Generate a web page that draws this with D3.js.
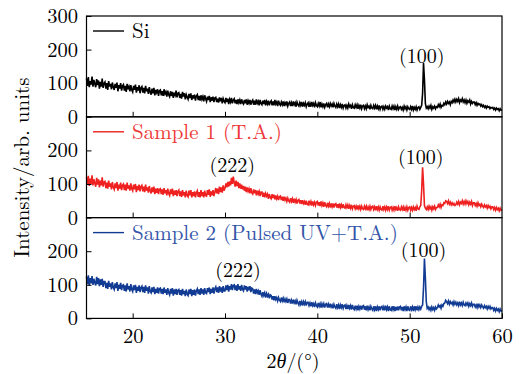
<!DOCTYPE html>
<html>
<head>
<meta charset="utf-8">
<script src="https://cdn.jsdelivr.net/npm/d3@7"></script>
<style>
  body { margin: 0; background: #fff; }
  .axis path { display: none; }
  .axis line { stroke: #000; stroke-width: 1; }
</style>
</head>
<body>
<svg id="chart" width="520" height="374"></svg>
<script>
const serif = "'Latin Modern Roman', 'Liberation Serif', serif";

// scan from 15 deg, one reading every 0.1 deg, up to 60 deg
const startAngle = 15;
const stepAngle = 0.1;

// one row per degree
const siCounts = [
  114, 92, 118, 88, 106, 96, 120, 90, 110, 98,
  88, 112, 94, 108, 84, 104, 90, 114, 86, 100,
  104, 84, 100, 80, 106, 90, 98, 82, 102, 88,
  80, 98, 86, 102, 76, 94, 84, 100, 78, 92,
  96, 78, 92, 74, 98, 82, 90, 76, 94, 80,
  74, 92, 80, 96, 72, 88, 78, 94, 70, 86,
  90, 72, 86, 70, 92, 76, 84, 68, 88, 74,
  66, 84, 70, 86, 64, 80, 72, 82, 62, 78,
  80, 64, 76, 62, 82, 68, 74, 60, 78, 66,
  60, 76, 62, 74, 56, 72, 64, 78, 58, 70,
  72, 56, 68, 54, 74, 60, 70, 52, 66, 58,
  52, 68, 56, 70, 50, 64, 54, 66, 48, 62,
  66, 50, 62, 48, 64, 52, 60, 46, 64, 54,
  46, 60, 50, 62, 44, 58, 48, 60, 44, 56,
  58, 44, 54, 42, 58, 46, 56, 40, 54, 46,
  42, 56, 44, 54, 38, 52, 44, 56, 40, 50,
  54, 40, 50, 38, 52, 42, 50, 38, 52, 42,
  38, 50, 40, 52, 36, 48, 40, 50, 36, 46,
  50, 36, 48, 36, 52, 40, 46, 34, 50, 40,
  36, 48, 38, 50, 34, 46, 38, 48, 34, 44,
  48, 34, 46, 34, 50, 38, 44, 32, 48, 38,
  34, 44, 36, 46, 32, 42, 36, 46, 32, 40,
  44, 32, 42, 32, 46, 36, 42, 30, 44, 36,
  32, 42, 34, 44, 30, 40, 34, 42, 30, 38,
  42, 30, 40, 30, 44, 34, 40, 28, 42, 34,
  30, 40, 32, 44, 28, 38, 30, 40, 28, 36,
  40, 28, 38, 30, 40, 32, 38, 28, 40, 32,
  28, 38, 30, 38, 26, 36, 28, 38, 26, 34,
  36, 26, 34, 26, 38, 30, 34, 24, 36, 28,
  26, 36, 28, 36, 24, 34, 26, 36, 24, 32,
  34, 24, 32, 24, 36, 28, 32, 22, 34, 26,
  24, 34, 26, 34, 22, 32, 24, 34, 22, 30,
  32, 22, 30, 22, 32, 26, 30, 20, 32, 24,
  22, 32, 24, 32, 20, 30, 22, 32, 22, 28,
  30, 22, 28, 20, 32, 24, 30, 20, 30, 24,
  22, 30, 22, 32, 20, 28, 22, 30, 20, 28,
  30, 22, 28, 34, 70, 160, 110, 40, 26, 30,
  24, 32, 26, 34, 22, 30, 26, 32, 24, 30,
  28, 36, 30, 38, 28, 34, 32, 40, 36, 44,
  38, 46, 40, 44, 36, 46, 42, 50, 44, 52,
  44, 52, 46, 54, 42, 50, 46, 54, 44, 50,
  42, 50, 40, 48, 44, 50, 38, 46, 40, 44,
  44, 36, 42, 34, 40, 36, 38, 32, 36, 30,
  34, 28, 32, 26, 32, 28, 30, 24, 28, 26,
  28, 22, 26, 20, 26, 22, 24, 18, 24, 20,
  20
];

const sample1Counts = [
  120, 98, 124, 94, 116, 100, 126, 96, 114, 102,
  92, 118, 98, 114, 90, 110, 96, 120, 92, 106,
  108, 88, 104, 86, 110, 92, 102, 84, 106, 90,
  84, 102, 88, 106, 80, 98, 86, 104, 82, 96,
  100, 82, 98, 80, 104, 86, 96, 80, 102, 86,
  80, 98, 84, 100, 76, 94, 82, 98, 78, 92,
  96, 78, 92, 76, 98, 80, 90, 74, 94, 80,
  72, 90, 76, 92, 70, 86, 74, 88, 70, 84,
  86, 70, 84, 68, 88, 72, 82, 66, 86, 72,
  66, 84, 70, 86, 64, 80, 68, 82, 64, 78,
  82, 64, 78, 62, 82, 66, 76, 60, 80, 66,
  62, 80, 66, 82, 60, 76, 64, 78, 60, 74,
  80, 62, 76, 60, 82, 64, 76, 60, 80, 66,
  64, 82, 68, 84, 62, 78, 66, 82, 64, 76,
  88, 72, 86, 70, 92, 76, 90, 74, 96, 80,
  88, 102, 90, 106, 92, 108, 96, 118, 100, 122,
  104, 92, 110, 94, 106, 88, 102, 86, 98, 84,
  94, 80, 92, 76, 90, 78, 86, 72, 88, 74,
  70, 84, 72, 82, 66, 80, 70, 78, 64, 76,
  76, 62, 74, 60, 72, 64, 70, 56, 70, 60,
  56, 70, 58, 68, 54, 66, 56, 64, 52, 62,
  64, 52, 62, 50, 62, 52, 58, 48, 58, 50,
  46, 58, 48, 56, 44, 56, 46, 54, 42, 52,
  54, 42, 52, 40, 52, 42, 48, 38, 50, 40,
  38, 50, 40, 48, 36, 48, 38, 46, 36, 46,
  48, 36, 46, 34, 48, 36, 44, 32, 46, 36,
  32, 44, 34, 42, 30, 42, 32, 42, 30, 40,
  42, 30, 40, 28, 42, 30, 38, 28, 40, 30,
  28, 38, 30, 38, 26, 36, 28, 38, 26, 34,
  36, 26, 34, 24, 36, 26, 34, 24, 34, 26,
  24, 34, 26, 34, 22, 32, 24, 34, 24, 32,
  34, 24, 32, 22, 34, 24, 32, 22, 32, 24,
  22, 34, 24, 32, 22, 32, 24, 34, 22, 30,
  32, 22, 30, 22, 34, 24, 30, 20, 32, 24,
  22, 32, 24, 32, 20, 30, 22, 32, 22, 30,
  32, 22, 30, 22, 32, 24, 30, 20, 34, 26,
  24, 32, 36, 80, 150, 100, 36, 28, 24, 32,
  24, 34, 26, 32, 22, 32, 26, 34, 24, 30,
  30, 38, 32, 40, 30, 38, 36, 44, 42, 50,
  48, 42, 50, 40, 46, 38, 44, 38, 42, 36,
  38, 46, 40, 48, 38, 46, 42, 50, 40, 48,
  40, 50, 42, 48, 38, 46, 40, 48, 36, 44,
  44, 36, 42, 34, 44, 36, 40, 32, 40, 34,
  30, 38, 32, 36, 28, 36, 30, 34, 26, 32,
  32, 24, 30, 22, 30, 24, 28, 20, 28, 22,
  24
];

const sample2Counts = [
  124, 102, 128, 98, 120, 104, 126, 100, 118, 106,
  98, 124, 102, 120, 96, 116, 100, 118, 94, 110,
  110, 90, 106, 88, 112, 94, 104, 86, 108, 92,
  86, 104, 90, 108, 82, 100, 88, 106, 84, 98,
  100, 82, 98, 80, 104, 86, 96, 80, 102, 86,
  80, 98, 84, 100, 76, 94, 82, 98, 78, 92,
  96, 78, 94, 76, 98, 82, 92, 74, 96, 80,
  76, 92, 78, 94, 72, 88, 76, 92, 74, 88,
  90, 74, 88, 72, 92, 76, 86, 70, 90, 76,
  70, 88, 74, 90, 68, 86, 72, 88, 70, 84,
  86, 70, 84, 68, 88, 72, 82, 66, 86, 72,
  68, 86, 72, 88, 66, 84, 70, 86, 68, 82,
  88, 72, 86, 70, 90, 74, 86, 70, 90, 76,
  74, 90, 78, 92, 72, 88, 76, 92, 74, 88,
  94, 78, 92, 76, 96, 80, 92, 76, 96, 82,
  82, 98, 84, 100, 80, 96, 86, 102, 84, 98,
  100, 84, 98, 82, 102, 86, 96, 82, 100, 86,
  82, 98, 86, 96, 80, 94, 84, 96, 78, 90,
  88, 74, 86, 72, 88, 76, 82, 70, 84, 72,
  66, 78, 68, 76, 62, 74, 66, 72, 60, 70,
  68, 56, 66, 54, 66, 56, 62, 52, 62, 54,
  50, 62, 52, 60, 48, 58, 50, 58, 46, 56,
  56, 44, 54, 44, 56, 46, 52, 42, 54, 46,
  40, 52, 42, 50, 38, 50, 42, 50, 38, 48,
  48, 38, 46, 36, 48, 38, 44, 34, 46, 38,
  34, 46, 36, 44, 32, 44, 36, 44, 32, 42,
  44, 32, 42, 32, 44, 34, 40, 30, 42, 34,
  30, 42, 32, 40, 28, 40, 32, 42, 30, 38,
  40, 28, 38, 28, 40, 30, 38, 26, 40, 30,
  26, 38, 28, 38, 24, 36, 28, 38, 26, 36,
  38, 26, 36, 24, 38, 26, 34, 24, 36, 28,
  24, 36, 26, 36, 22, 34, 26, 36, 24, 34,
  36, 24, 34, 24, 38, 26, 34, 22, 36, 26,
  24, 36, 26, 36, 22, 34, 24, 36, 24, 34,
  36, 24, 34, 22, 36, 26, 34, 22, 36, 26,
  24, 36, 26, 34, 22, 36, 26, 36, 24, 34,
  26, 34, 28, 36, 40, 90, 178, 120, 50, 30,
  34, 26, 32, 24, 34, 26, 32, 24, 34, 28,
  32, 40, 34, 38, 30, 40, 36, 44, 46, 54,
  50, 44, 52, 42, 50, 44, 48, 40, 50, 42,
  48, 40, 46, 38, 50, 40, 46, 38, 48, 40,
  38, 46, 40, 46, 36, 44, 38, 46, 36, 42,
  42, 34, 40, 32, 44, 34, 40, 32, 40, 34,
  30, 38, 32, 36, 28, 36, 30, 36, 28, 32,
  32, 24, 30, 22, 30, 24, 28, 20, 28, 22,
  24
];

const seriesNames = ["Si", "Sample 1 (T.A.)", "Sample 2 (Pulsed UV+T.A.)"];
const seriesColors = ["#000000", "#ee2020", "#123c94"];
const legendColors = ["#000000", "#ee3838", "#3355a8"];
const xTicks = [20, 30, 40, 50, 60];
const yTicks = [0, 100, 200, 300];

// peak labels: [panel, angle, counts, text]
const peakLabels = [
  [0, 51.3, 180, "(100)"],
  [1, 30.8, 156, "(222)"],
  [1, 51.2, 181, "(100)"],
  [2, 31.4, 144, "(222)"],
  [2, 51.5, 203, "(100)"]
];

const allSeries = [siCounts, sample1Counts, sample2Counts];

const svg = d3.select("#chart");
const plotLeft = 86.5, plotRight = 502, plotTop = 16, panelH = 100.8;

const x = d3.scaleLinear().domain([15, 60]).range([plotLeft, plotRight]);

allSeries.forEach((counts, i) => {
  const y0 = plotTop + i * panelH;
  const y = d3.scaleLinear().domain([0, 300]).range([y0 + panelH, y0]);
  const g = svg.append("g");

  const pts = counts.map((c, k) => [startAngle + k * stepAngle, c]);
  const line = d3.line().x((d) => x(d[0])).y((d) => y(d[1]));

  g.append("path")
    .datum(pts)
    .attr("d", line)
    .attr("fill", "none")
    .attr("stroke", seriesColors[i])
    .attr("stroke-width", 1.6);

  // frame
  g.append("rect")
    .attr("x", plotLeft)
    .attr("y", y0)
    .attr("width", plotRight - plotLeft)
    .attr("height", panelH)
    .attr("fill", "none")
    .attr("stroke", "#000")
    .attr("stroke-width", 1.2);

  const xAxis = d3.axisBottom(x)
    .tickValues(xTicks.filter((t) => t < 60 || i === 2))
    .tickSizeInner(-5)
    .tickSizeOuter(0)
    .tickPadding(10);
  if (i !== 2) xAxis.tickFormat("");
  g.append("g")
    .attr("class", "axis")
    .attr("transform", `translate(0,${y0 + panelH})`)
    .call(xAxis)
    .style("font-family", serif)
    .style("font-size", "20.5px");

  const yAxis = d3.axisLeft(y)
    .tickValues(yTicks.filter((t) => t < 300 || i === 0))
    .tickSizeInner(-5)
    .tickSizeOuter(0)
    .tickPadding(8.5);
  g.append("g")
    .attr("class", "axis")
    .attr("transform", `translate(${plotLeft},0)`)
    .call(yAxis)
    .style("font-family", serif)
    .style("font-size", "20.5px");

  // legend
  const ly = y0 + 15;
  g.append("line")
    .attr("x1", 93).attr("x2", 124)
    .attr("y1", ly).attr("y2", ly)
    .attr("stroke", seriesColors[i])
    .attr("stroke-width", 1.4);
  g.append("text")
    .attr("x", 132)
    .attr("y", ly)
    .attr("dy", "0.35em")
    .style("font-family", serif)
    .style("font-size", "21px")
    .attr("fill", legendColors[i])
    .text(seriesNames[i]);

  peakLabels.filter((p) => p[0] === i).forEach((p) => {
    g.append("text")
      .attr("x", x(p[1]))
      .attr("y", y(p[2]))
      .attr("dy", "0.35em")
      .attr("text-anchor", "middle")
      .style("font-family", serif)
      .style("font-size", "20px")
      .text(p[3]);
  });
});

// axis titles
svg.append("text")
  .attr("transform", "translate(22,167.5) rotate(-90)")
  .attr("text-anchor", "middle")
  .attr("dy", "0.35em")
  .style("font-family", serif)
  .style("font-size", "21px")
  .text("Intensity/arb. units");

const xt = svg.append("text")
  .attr("x", 293)
  .attr("y", 361)
  .attr("dy", "0.35em")
  .attr("text-anchor", "middle")
  .style("font-family", serif)
  .style("font-size", "20px");
xt.append("tspan").text("2");
xt.append("tspan").style("font-style", "italic").text("θ");
xt.append("tspan").text("/(°)");
</script>
</body>
</html>
